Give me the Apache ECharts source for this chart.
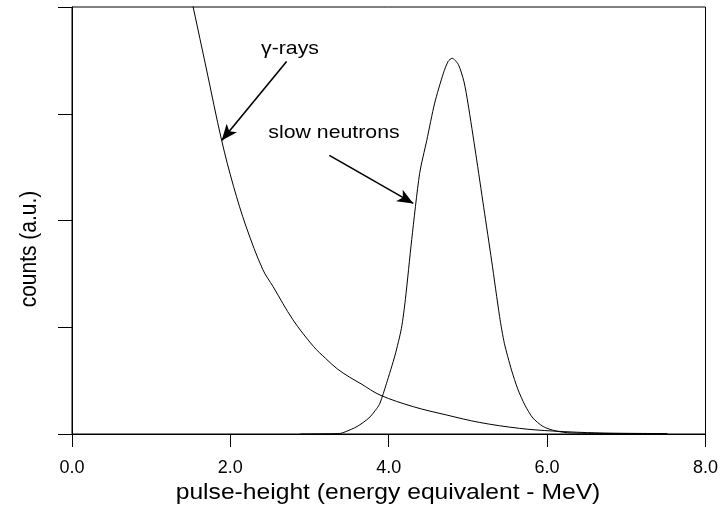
<!DOCTYPE html>
<html>
<head>
<meta charset="utf-8">
<script src="https://cdn.jsdelivr.net/npm/echarts@6/dist/echarts.min.js"></script>
<style>
html,body{margin:0;padding:0;background:#fff;}
#chart{width:721px;height:515px;}
</style>
</head>
<body>
<div id="chart"></div>
<script>
// ---- data ----
var xTicks = [0, 2, 4, 6, 8];
var yTicks = [0, 1, 2, 3, 4];

var gammaX = [1.40, 1.53, 1.70, 1.89, 2.04, 2.20, 2.41, 2.54, 2.79, 3.05, 3.20, 3.35, 3.50, 3.65, 3.89, 4.31, 4.73, 5.15, 5.65, 6.07, 6.66, 7.52];
var gammaY = [4.45, 4.00, 3.41, 2.75, 2.32, 1.94, 1.54, 1.38, 1.07, 0.82, 0.71, 0.61, 0.535, 0.47, 0.365, 0.256, 0.178, 0.108, 0.053, 0.028, 0.01, 0.004];

var neutronX = [2.88, 3.38, 3.45, 3.60, 3.75, 3.85, 3.89, 3.97, 4.08, 4.16, 4.21, 4.29, 4.39, 4.48, 4.58, 4.69, 4.75, 4.80, 4.88, 4.95, 5.00, 5.10, 5.20, 5.30, 5.40, 5.46, 5.55, 5.63, 5.72, 5.82, 5.95, 6.10, 6.30, 7.50];
var neutronY = [0.00, 0.005, 0.02, 0.07, 0.15, 0.24, 0.29, 0.47, 0.74, 0.99, 1.26, 1.82, 2.44, 2.75, 3.10, 3.38, 3.49, 3.52, 3.46, 3.30, 3.10, 2.62, 2.12, 1.62, 1.10, 0.85, 0.60, 0.42, 0.27, 0.15, 0.07, 0.03, 0.01, 0.00];

var xTitle = 'pulse-height (energy equivalent - MeV)';
var yTitle = 'counts (a.u.)';
var gammaLabel = 'γ-rays';
var neutronLabel = 'slow neutrons';
// arrow annotations: [start, tip] in data coordinates
var gammaArrow = [[2.71, 3.49], [1.89, 2.75]];
var neutronArrow = [[3.25, 2.61], [4.31, 2.16]];

function zip(xs, ys) { return xs.map(function (x, i) { return [x, ys[i]]; }); }

var FONT = 'Liberation Sans, Arial, sans-serif';
var chart = echarts.init(document.getElementById('chart'), null, {renderer: 'canvas'});

var option = {
  animation: false,
  backgroundColor: '#fff',
  grid: {left: 72, right: 15, top: 7, bottom: 81, show: true, borderColor: '#000', borderWidth: 1, backgroundColor: 'transparent'},
  xAxis: {
    type: 'value', min: xTicks[0], max: xTicks[xTicks.length - 1], interval: 2,
    axisLine: {show: true, onZero: false, lineStyle: {color: '#000', width: 1}},
    axisTick: {show: true, inside: false, length: 13, lineStyle: {color: '#000', width: 1}},
    axisLabel: {show: true, margin: 25, color: '#000', fontSize: 18, fontFamily: FONT,
      formatter: function (v) { return v.toFixed(1); }},
    splitLine: {show: false}
  },
  yAxis: {
    type: 'value', min: yTicks[0], max: yTicks[yTicks.length - 1], interval: 1,
    axisLine: {show: true, onZero: false, lineStyle: {color: '#000', width: 1}},
    axisTick: {show: true, inside: false, length: 14, lineStyle: {color: '#000', width: 1}},
    axisLabel: {show: false},
    splitLine: {show: false}
  },
  series: [
    {
      type: 'line', name: 'gamma', data: zip(gammaX, gammaY), showSymbol: false, symbol: 'none',
      smooth: 0.35, clip: true,
      lineStyle: {color: '#000', width: 1},
      markLine: {
        silent: true, symbol: ['none', 'arrow'], symbolSize: [10, 16],
        label: {show: false},
        lineStyle: {color: '#000', width: 1.6, type: 'solid'},
        data: [
          [{coord: gammaArrow[0]}, {coord: gammaArrow[1]}],
          [{coord: neutronArrow[0]}, {coord: neutronArrow[1]}]
        ]
      }
    },
    {
      type: 'line', name: 'neutrons', data: zip(neutronX, neutronY), showSymbol: false, symbol: 'none',
      smooth: 0.25, clip: true,
      lineStyle: {color: '#000', width: 1}
    }
  ],
  graphic: [
    {type: 'text', x: 388, y: 493, scaleX: 1.12,
      style: {text: xTitle, fontSize: 22, fontFamily: FONT, fill: '#000', align: 'center', verticalAlign: 'middle'}},
    {type: 'text', x: 30, y: 249, rotation: Math.PI / 2, scaleY: 1.1,
      style: {text: yTitle, fontSize: 21, fontFamily: FONT, fill: '#000', align: 'center', verticalAlign: 'middle'}},
    {type: 'text', x: 290, y: 49, scaleX: 1.12,
      style: {text: gammaLabel, fontSize: 19, fontFamily: FONT, fill: '#000', align: 'center', verticalAlign: 'middle'}},
    {type: 'text', x: 334, y: 133, scaleX: 1.12,
      style: {text: neutronLabel, fontSize: 19, fontFamily: FONT, fill: '#000', align: 'center', verticalAlign: 'middle'}}
  ]
};
chart.setOption(option);
</script>
</body>
</html>
